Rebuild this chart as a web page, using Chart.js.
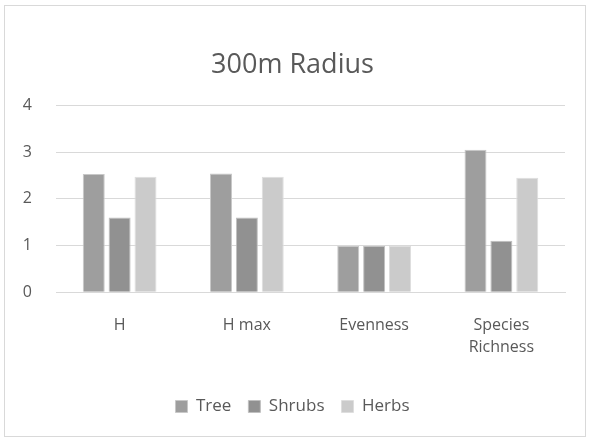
<!DOCTYPE html>
<html>
<head>
<meta charset="utf-8">
<script src="https://cdn.jsdelivr.net/npm/chart.js@4.4.0/dist/chart.umd.min.js"></script>
<style>
  body { margin: 0; background: #fff; }
  #wrap {
    position: absolute; left: 4px; top: 5px;
    width: 580px; height: 430px;
    border: 1px solid #d9d9d9;
  }
</style>
</head>
<body>
<div id="wrap"><canvas id="radiusChart"></canvas></div>
<script>
const categories = ['H', 'H max', 'Evenness', ['Species', 'Richness']];
const treeValues = [2.53, 2.54, 0.99, 3.05];
const shrubValues = [1.60, 1.60, 0.99, 1.10];
const herbValues = [2.47, 2.47, 0.99, 2.45];
const yTicks = [0, 1, 2, 3, 4];

const textColor = '#595959';
const gridColor = '#d9d9d9';
const font = 'Open Sans, Liberation Sans, sans-serif';

const ctx = document.getElementById('radiusChart').getContext('2d');

new Chart(ctx, {
    type: 'bar',
    data: {
        labels: categories,
        datasets: [
            { label: 'Tree', data: treeValues, backgroundColor: '#9e9e9e', borderColor: '#c8c8c8', borderWidth: 1 },
            { label: 'Shrubs', data: shrubValues, backgroundColor: '#919191', borderColor: '#c0c0c0', borderWidth: 1 },
            { label: 'Herbs', data: herbValues, backgroundColor: '#cbcbcb', borderColor: '#dedede', borderWidth: 1 }
        ]
    },
    options: {
        responsive: true,
        maintainAspectRatio: false,
        animation: false,
        categoryPercentage: 0.61,
        barPercentage: 0.85,
        layout: { padding: { left: 15, right: 20, top: 10, bottom: 11 } },
        plugins: {
            title: {
                display: true,
                text: '300m Radius',
                color: textColor,
                font: { family: font, size: 27, weight: 'normal' },
                padding: { top: 33, bottom: 24 }
            },
            legend: {
                position: 'bottom',
                labels: {
                    color: textColor,
                    font: { family: font, size: 17 },
                    boxWidth: 12,
                    boxHeight: 12,
                    padding: 17
                }
            },
            tooltip: { enabled: false }
        },
        scales: {
            x: {
                grid: { display: false, drawTicks: false },
                border: { display: true, color: gridColor },
                ticks: {
                    color: textColor,
                    font: { family: font, size: 16, lineHeight: 1.4 },
                    padding: 22,
                    maxRotation: 0
                }
            },
            y: {
                min: 0,
                max: 4,
                afterBuildTicks: axis => { axis.ticks = yTicks.map(v => ({ value: v })); },
                afterFit: scale => { scale.width = 36; },
                grid: { color: gridColor, drawTicks: false },
                border: { display: false },
                ticks: { color: textColor, font: { family: font, size: 16 }, padding: 24 }
            }
        }
    }
});
</script>
</body>
</html>
